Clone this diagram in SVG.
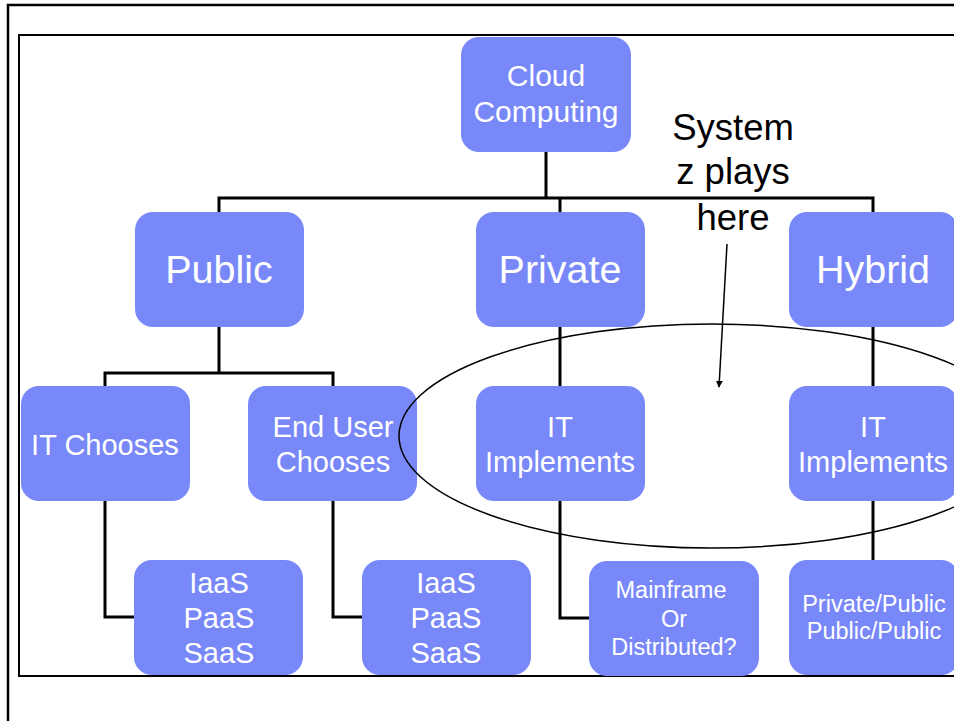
<svg xmlns="http://www.w3.org/2000/svg" width="954" height="721" viewBox="0 0 954 721">
  <defs>
    <marker id="arrowhead" viewBox="0 0 10 10" refX="9" refY="5" markerWidth="7" markerHeight="7" orient="auto" markerUnits="userSpaceOnUse">
      <path d="M0,0 L10,5 L0,10 z" fill="#000"/>
    </marker>
    <style>
      .frame { fill: none; stroke: #000; }
      .box { fill: #7888F9; }
      .lbl { fill: #fff; font-family: "Liberation Sans", Arial, sans-serif; text-anchor: middle; }
      .big { font-size: 39.5px; }
      .mid { font-size: 29px; }
      .top { font-size: 30px; }
      .small { font-size: 23.5px; }
      .conn { fill: none; stroke: #000; stroke-width: 3; }
      .note { fill: #000; font-family: "Liberation Sans", Arial, sans-serif; font-size: 36.5px; text-anchor: middle; }
    </style>
  </defs>

  <rect width="954" height="721" fill="#fff"/>

  <!-- page frames -->
  <rect class="frame" x="8" y="5" width="1000" height="1000" stroke-width="2.5"/>
  <rect class="frame" x="19" y="35" width="1000" height="641" stroke-width="2"/>

  <!-- tree connectors -->
  <g id="connectors">
    <path class="conn" d="M546,152 V198 M219,212 V198 H873 V212 M560,198 V212"/>
    <path class="conn" d="M219,326 V373 M105,386 V373 H333 V386"/>
    <path class="conn" d="M560,326 V386 M873,326 V386"/>
    <path class="conn" d="M105,501 V617 H135"/>
    <path class="conn" d="M333,501 V617 H363"/>
    <path class="conn" d="M560,501 V618 H590"/>
    <path class="conn" d="M873,501 V561"/>
  </g>

  <g id="cloud-computing">
    <rect class="box" x="461" y="37" width="170" height="115" rx="18"/>
    <text class="lbl top" x="546" y="86">Cloud</text>
    <text class="lbl top" x="546" y="122">Computing</text>
  </g>

  <g id="public">
    <rect class="box" x="135" y="212" width="169" height="115" rx="18"/>
    <text class="lbl big" x="219" y="283">Public</text>
  </g>

  <g id="private">
    <rect class="box" x="476" y="212" width="169" height="115" rx="18"/>
    <text class="lbl big" x="560" y="283">Private</text>
  </g>

  <g id="hybrid">
    <rect class="box" x="789" y="212" width="169" height="115" rx="18"/>
    <text class="lbl big" x="873" y="283">Hybrid</text>
  </g>

  <g id="it-chooses">
    <rect class="box" x="21" y="386" width="169" height="115" rx="18"/>
    <text class="lbl mid" x="105" y="455">IT Chooses</text>
  </g>

  <g id="end-user-chooses">
    <rect class="box" x="248" y="386" width="169" height="115" rx="18"/>
    <text class="lbl mid" x="333" y="437">End User</text>
    <text class="lbl mid" x="333" y="472">Chooses</text>
  </g>

  <g id="private-it-implements">
    <rect class="box" x="476" y="386" width="169" height="115" rx="18"/>
    <text class="lbl mid" x="560" y="437">IT</text>
    <text class="lbl mid" x="560" y="472">Implements</text>
  </g>

  <g id="hybrid-it-implements">
    <rect class="box" x="789" y="386" width="169" height="115" rx="18"/>
    <text class="lbl mid" x="873" y="437">IT</text>
    <text class="lbl mid" x="873" y="472">Implements</text>
  </g>

  <g id="it-services">
    <rect class="box" x="134" y="560" width="169" height="115" rx="18"/>
    <text class="lbl mid" x="219" y="593">IaaS</text>
    <text class="lbl mid" x="219" y="628">PaaS</text>
    <text class="lbl mid" x="219" y="663">SaaS</text>
  </g>

  <g id="user-services">
    <rect class="box" x="362" y="560" width="169" height="115" rx="18"/>
    <text class="lbl mid" x="446" y="593">IaaS</text>
    <text class="lbl mid" x="446" y="628">PaaS</text>
    <text class="lbl mid" x="446" y="663">SaaS</text>
  </g>

  <g id="mainframe-or-distributed">
    <rect class="box" x="589" y="561" width="170" height="115" rx="18"/>
    <text class="lbl small" x="671" y="598">Mainframe</text>
    <text class="lbl small" x="674" y="627">Or</text>
    <text class="lbl small" x="674" y="655">Distributed?</text>
  </g>

  <g id="cloud-mix">
    <rect class="box" x="789" y="560" width="170" height="115" rx="18"/>
    <text class="lbl small" x="874" y="612">Private/Public</text>
    <text class="lbl small" x="874" y="639">Public/Public</text>
  </g>

  <!-- callout -->
  <g id="system-z-callout">
    <ellipse cx="712" cy="436" rx="313" ry="112" fill="none" stroke="#000" stroke-width="1.5"/>
    <text class="note" x="733" y="140">System</text>
    <text class="note" x="733" y="184">z plays</text>
    <text class="note" x="733" y="230">here</text>
    <line x1="727" y1="244" x2="719" y2="387" stroke="#000" stroke-width="1.5" marker-end="url(#arrowhead)"/>
  </g>
</svg>
